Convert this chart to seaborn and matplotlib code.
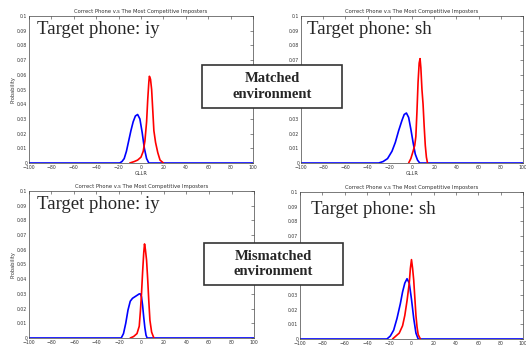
import numpy as np
import pandas as pd
import matplotlib
matplotlib.use("Agg")
import matplotlib.pyplot as plt
from matplotlib.patches import Rectangle
import seaborn as sns

sns.set_style("white")

# GLLR curves (x = GLLR, y = probability)
# top-left: iy, matched
iy_m_blue_x = [-100, -19, -17, -15, -13, -11, -9, -7, -5, -3, -1, 1, 3, 5, 7, 100]
iy_m_blue_y = [0, 0, 0.001, 0.003, 0.008, 0.015, 0.022, 0.028, 0.032, 0.033, 0.030, 0.021, 0.010, 0.003, 0, 0]
iy_m_red_x = [-10, -6, -3, 0, 2, 3.5, 5, 6, 7, 7.5, 8.5, 9.5, 10.5, 11.5, 13, 15, 17, 20]
iy_m_red_y = [0, 0.001, 0.002, 0.004, 0.008, 0.015, 0.028, 0.043, 0.055, 0.059, 0.057, 0.050, 0.036, 0.022, 0.014, 0.007, 0.002, 0]

# top-right: sh, matched
sh_m_blue_x = [-100, -30, -26, -22, -18, -15, -12, -9, -7, -5, -3, -1, 1, 3, 5, 7, 100]
sh_m_blue_y = [0, 0, 0.001, 0.003, 0.008, 0.014, 0.022, 0.029, 0.033, 0.034, 0.031, 0.023, 0.014, 0.006, 0.002, 0, 0]
sh_m_red_x = [-3, -1, 1, 2.5, 3.5, 4.5, 5.5, 6.5, 7.3, 8, 9, 10, 11, 12, 13, 14]
sh_m_red_y = [0, 0.003, 0.008, 0.012, 0.018, 0.035, 0.055, 0.068, 0.071, 0.065, 0.050, 0.040, 0.025, 0.012, 0.004, 0]

# bottom-left: iy, mismatched
iy_mm_blue_x = [-100, -18, -16, -14, -12, -10, -8, -6, -4, -2, -1, 0, 1, 2, 3, 4, 5, 100]
iy_mm_blue_y = [0, 0, 0.003, 0.010, 0.019, 0.025, 0.027, 0.028, 0.029, 0.030, 0.030, 0.028, 0.022, 0.014, 0.007, 0.002, 0, 0]
iy_mm_red_x = [-10, -7, -4, -2, -1, 0, 1, 2, 2.7, 3.5, 4.5, 5.5, 6.5, 7.5, 9, 11]
iy_mm_red_y = [0, 0.001, 0.003, 0.008, 0.018, 0.030, 0.045, 0.058, 0.064, 0.060, 0.053, 0.040, 0.025, 0.012, 0.004, 0]

# bottom-right: sh, mismatched
sh_mm_blue_x = [-100, -22, -19, -16, -13, -10, -8, -6, -4, -2, 0, 2, 4, 6, 100]
sh_mm_blue_y = [0, 0, 0.002, 0.006, 0.014, 0.024, 0.032, 0.038, 0.041, 0.038, 0.027, 0.014, 0.004, 0, 0]
sh_mm_red_x = [-17, -14, -11, -8, -6, -4, -2, -1, 0, 1, 2, 3, 4, 5, 6, 8]
sh_mm_red_y = [0, 0.002, 0.004, 0.009, 0.016, 0.026, 0.038, 0.048, 0.054, 0.048, 0.040, 0.028, 0.016, 0.008, 0.003, 0]

title = "Correct Phone v.s The Most Competitive Imposters"
xticks = [-100, -80, -60, -40, -20, 0, 20, 40, 60, 80, 100]
yticks = [0, 0.01, 0.02, 0.03, 0.04, 0.05, 0.06, 0.07, 0.08, 0.09, 0.1]
ytick_labels = ["0", "0.01", "0.02", "0.03", "0.04", "0.05", "0.06", "0.07", "0.08", "0.09", "0.1"]
# right-hand panels: the environment box hides their y label and middle tick labels
ytick_labels_hidden = ["0", "0.01", "0.02", "0.03", "", "", "", "0.07", "0.08", "0.09", "0.1"]

# position, label, label position, left column?, show xlabel, data
panels = [
    ([0.0551, 0.5275, 0.4259, 0.4261], "Target phone: iy", (0.036, 0.905), True, True,
     iy_m_blue_x, iy_m_blue_y, iy_m_red_x, iy_m_red_y),
    ([0.5722, 0.5275, 0.4220, 0.4261], "Target phone: sh", (0.027, 0.905), False, True,
     sh_m_blue_x, sh_m_blue_y, sh_m_red_x, sh_m_red_y),
    ([0.0551, 0.0203, 0.4278, 0.4261], "Target phone: iy", (0.036, 0.905), True, False,
     iy_mm_blue_x, iy_mm_blue_y, iy_mm_red_x, iy_mm_red_y),
    ([0.5703, 0.0174, 0.4240, 0.4261], "Target phone: sh", (0.048, 0.884), False, False,
     sh_mm_blue_x, sh_mm_blue_y, sh_mm_red_x, sh_mm_red_y),
]

fig = plt.figure(figsize=(5.26, 3.45), dpi=100)

for pos, label, lpos, left, show_xl, bx, by, rx, ry in panels:
    ax = fig.add_axes(pos)
    df_b = pd.DataFrame({"GLLR": bx, "Probability": by})
    df_r = pd.DataFrame({"GLLR": rx, "Probability": ry})
    sns.lineplot(data=df_b, x="GLLR", y="Probability", color="#0000ff", linewidth=1.2, ax=ax)
    sns.lineplot(data=df_r, x="GLLR", y="Probability", color="#ff0000", linewidth=1.2, ax=ax)
    ax.set_xlim(-100, 100)
    ax.set_ylim(0, 0.1)
    ax.set_xticks(xticks)
    ax.set_yticks(yticks)
    ax.set_yticklabels(ytick_labels if left else ytick_labels_hidden)
    ax.tick_params(direction="in", length=2, width=0.4, labelsize=3.3, pad=1.2,
                   top=True, right=True, colors="#333333")
    ax.set_title(title, fontsize=3.8, pad=2, color="#333333")
    ax.set_xlabel("GLLR" if show_xl else "", fontsize=3.6, labelpad=1, color="#333333")
    ax.set_ylabel("Probability" if left else "", fontsize=3.6, labelpad=1, color="#333333")
    for s in ax.spines.values():
        s.set_linewidth(0.5)
        s.set_color("#444444")
    ax.text(lpos[0], lpos[1], label, transform=ax.transAxes, fontsize=13.5,
            family="Liberation Serif", va="center", ha="left")

# environment boxes in figure coordinates
boxes = [
    ((202, 65, 342, 108), "Matched\nenvironment"),
    ((204, 243, 343, 285), "Mismatched\nenvironment"),
]
W, H = 526, 345
for (x0, y0, x1, y1), txt in boxes:
    rect = Rectangle((x0 / W, 1 - y1 / H), (x1 - x0) / W, (y1 - y0) / H,
                     transform=fig.transFigure, facecolor="white",
                     edgecolor="#333333", linewidth=1.2, zorder=5)
    fig.add_artist(rect)
    fig.text((x0 + x1) / 2 / W, 1 - (y0 + y1) / 2 / H, txt, ha="center", va="center",
             fontsize=10.5, fontweight="bold", family="Liberation Serif",
             linespacing=1.2, zorder=6)

fig.savefig("out.png", dpi=100)
